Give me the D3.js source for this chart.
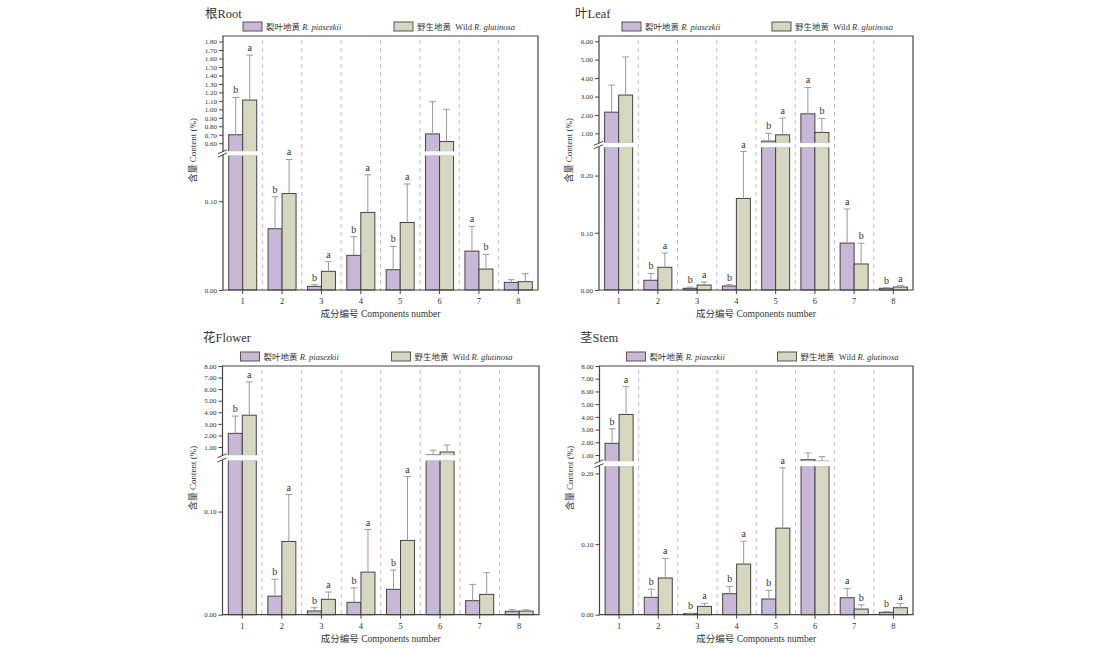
<!DOCTYPE html>
<html>
<head>
<meta charset="utf-8">
<script src="https://cdn.jsdelivr.net/npm/d3@7"></script>
<style>
    body { margin: 0; background: #fff; }
    svg text { font-family: "Liberation Serif", "Times New Roman", "Noto Sans CJK SC", serif; fill: #333; }
</style>
</head>
<body>
<div id="chart"></div>
<script>
/*
    Four panels (root, leaf, flower, stem) of grouped bars with a broken y axis.
    Purple = R. piasezkii, olive = wild R. glutinosa. Error bars are mean + SD.
*/

// ---- DATA ----
const components = ["1", "2", "3", "4", "5", "6", "7", "8"];

const rootPiasezkii   = [0.70, 0.069, 0.0041, 0.039, 0.0228, 0.71, 0.0438, 0.0086];
const rootPiasezkiiSD = [0.44, 0.036, 0.0019, 0.021, 0.0262, 0.38, 0.0278, 0.0030];
const rootGlutinosa   = [1.11, 0.1086, 0.021, 0.0873, 0.076, 0.62, 0.0236, 0.0094];
const rootGlutinosaSD = [0.53, 0.0384, 0.0108, 0.0423, 0.0434, 0.38, 0.0164, 0.0089];
const rootLettersP = ["b", "b", "b", "b", "b", "", "a", ""];
const rootLettersG = ["a", "a", "a", "a", "a", "", "b", ""];

const leafPiasezkii   = [2.15, 0.017, 0.003, 0.007, 0.58, 2.06, 0.082, 0.003];
const leafPiasezkiiSD = [1.47, 0.012, 0.002, 0.0023, 0.42, 1.43, 0.0596, 0.001];
const leafGlutinosa   = [3.08, 0.0397, 0.0087, 0.160, 0.92, 1.05, 0.0455, 0.0052];
const leafGlutinosaSD = [2.07, 0.025, 0.0053, 0.082, 0.91, 0.76, 0.0361, 0.0023];
const leafLettersP = ["", "b", "b", "b", "b", "a", "a", "b"];
const leafLettersG = ["", "a", "a", "a", "a", "b", "b", "a"];

const flowerPiasezkii   = [2.18, 0.018, 0.0036, 0.012, 0.0246, 0.31, 0.0136, 0.0033];
const flowerPiasezkiiSD = [1.49, 0.0163, 0.0032, 0.014, 0.0187, 0.41, 0.0158, 0.0015];
const flowerGlutinosa   = [3.75, 0.071, 0.0149, 0.0413, 0.072, 0.57, 0.0197, 0.0035];
const flowerGlutinosaSD = [2.87, 0.0455, 0.0071, 0.0413, 0.062, 0.60, 0.021, 0.0013];
const flowerLettersP = ["b", "b", "b", "b", "b", "", "", ""];
const flowerLettersG = ["a", "a", "a", "a", "a", "", "", ""];

const stemPiasezkii   = [1.92, 0.0246, 0.0014, 0.0297, 0.0222, 0.63, 0.024, 0.0034];
const stemPiasezkiiSD = [1.14, 0.0114, 0.0006, 0.0103, 0.0123, 0.53, 0.0133, 0.0014];
const stemGlutinosa   = [4.19, 0.052, 0.0118, 0.0717, 0.1226, 0.51, 0.008, 0.0099];
const stemGlutinosaSD = [2.19, 0.0277, 0.0042, 0.0323, 0.0854, 0.36, 0.006, 0.0057];
const stemLettersP = ["b", "b", "b", "b", "b", "", "a", "b"];
const stemLettersG = ["a", "a", "a", "a", "a", "", "b", "a"];

// tick labels
const rootUpperTicks   = [0.6, 0.7, 0.8, 0.9, 1.0, 1.1, 1.2, 1.3, 1.4, 1.5, 1.6, 1.7, 1.8];
const rootLowerTicks   = [0, 0.1];
const leafUpperTicks   = [1, 2, 3, 4, 5, 6];
const leafLowerTicks   = [0, 0.1, 0.2];
const flowerUpperTicks = [1, 2, 3, 4, 5, 6, 7, 8];
const flowerLowerTicks = [0, 0.1];
const stemUpperTicks   = [1, 2, 3, 4, 5, 6, 7, 8];
const stemLowerTicks   = [0, 0.1, 0.2];

const seriesNames = ["裂叶地黄", "野生地黄"];
const xTitle = "成分编号 Components number";
const yTitle = "含量 Content (%)";

// ---- LAYOUT ----
const width = 1099, height = 648;
const purple = "#c8b7d7", olive = "#d5d7c1";

const panels = [
    { title: "根Root", left: 223, right: 538, top: 36, bottom: 290, upBottom: 151.7, lowTop: 155,
      upDomain: [0.50, 1.866], lowMax: 0.152, upTicks: rootUpperTicks, lowTicks: rootLowerTicks,
      p: rootPiasezkii, pSD: rootPiasezkiiSD, g: rootGlutinosa, gSD: rootGlutinosaSD,
      lp: rootLettersP, lg: rootLettersG, titleX: 205, titleY: 18, legP: 20, legG: 171 },
    { title: "叶Leaf", left: 599, right: 913, top: 36, bottom: 290, upBottom: 143.3, lowTop: 146.7,
      upDomain: [0.459, 6.287], lowMax: 0.2505, upTicks: leafUpperTicks, lowTicks: leafLowerTicks,
      p: leafPiasezkii, pSD: leafPiasezkiiSD, g: leafGlutinosa, gSD: leafGlutinosaSD,
      lp: leafLettersP, lg: leafLettersG, titleX: 575, titleY: 18, legP: 23, legG: 173 },
    { title: "花Flower", left: 222.5, right: 539, top: 366, bottom: 614.7, upBottom: 455.7, lowTop: 460,
      upDomain: [0.25, 8.0], lowMax: 0.15, upTicks: flowerUpperTicks, lowTicks: flowerLowerTicks,
      p: flowerPiasezkii, pSD: flowerPiasezkiiSD, g: flowerGlutinosa, gSD: flowerGlutinosaSD,
      lp: flowerLettersP, lg: flowerLettersG, titleX: 203, titleY: 342, legP: 18, legG: 169 },
    { title: "茎Stem", left: 599.5, right: 913, top: 366, bottom: 614.7, upBottom: 461.7, lowTop: 465.7,
      upDomain: [0.475, 8.0], lowMax: 0.211, upTicks: stemUpperTicks, lowTicks: stemLowerTicks,
      p: stemPiasezkii, pSD: stemPiasezkiiSD, g: stemGlutinosa, gSD: stemGlutinosaSD,
      lp: stemLettersP, lg: stemLettersG, titleX: 580, titleY: 342, legP: 27, legG: 178 }
];

const svg = d3.select("#chart")
    .append("svg")
    .attr("width", width)
    .attr("height", height);

svg.append("rect").attr("width", width).attr("height", height).attr("fill", "#fff");

panels.forEach(drawPanel);

function drawPanel(P) {
    const g = svg.append("g");

    const x = d3.scaleBand().domain(components).range([P.left, P.right]);
    const bw = x.bandwidth();
    const barW = 14;
    const x1 = d3.scaleBand().domain(["p", "g"]).range([bw / 2 - barW, bw / 2 + barW]);

    const yLow = d3.scaleLinear().domain([0, P.lowMax]).range([P.bottom, P.lowTop]);
    const yUp = d3.scaleLinear().domain(P.upDomain).range([P.upBottom, P.top]);

    // dashed separators between components
    g.selectAll("line.sep")
        .data(components.slice(1))
        .enter()
        .append("line")
        .attr("x1", d => x(d)).attr("x2", d => x(d))
        .attr("y1", P.top + 4).attr("y2", P.bottom)
        .attr("stroke", "#d8b4c8")
        .attr("stroke-width", 1)
        .attr("stroke-dasharray", "4,4");

    const rows = components.map((c, i) => [
        { c, key: "p", v: P.p[i], sd: P.pSD[i], letter: P.lp[i], fill: purple },
        { c, key: "g", v: P.g[i], sd: P.gSD[i], letter: P.lg[i], fill: olive }
    ]).flat();

    rows.forEach(d => {
        const bx = x(d.c) + x1(d.key);
        const broken = d.v > P.lowMax;
        const yScale = broken ? yUp : yLow;
        // lower segment
        g.append("rect")
            .attr("x", bx).attr("width", barW)
            .attr("y", broken ? yLow(P.lowMax) : yLow(d.v))
            .attr("height", broken ? yLow(0) - yLow(P.lowMax) : yLow(0) - yLow(d.v))
            .attr("fill", d.fill).attr("stroke", "#444").attr("stroke-width", 1);
        if (broken) {
            g.append("rect")
                .attr("x", bx).attr("width", barW)
                .attr("y", yUp(d.v))
                .attr("height", Math.max(0, yUp(P.upDomain[0]) - yUp(d.v)))
                .attr("fill", d.fill).attr("stroke", "#444").attr("stroke-width", 1);
        }
        // error bar (upper half)
        const cx = bx + barW / 2;
        const yTop = yScale(d.v + d.sd);
        g.append("line")
            .attr("x1", cx).attr("x2", cx)
            .attr("y1", yScale(d.v)).attr("y2", yTop)
            .attr("stroke", "#9a9a9a").attr("stroke-width", 1);
        g.append("line")
            .attr("x1", cx - 3.3).attr("x2", cx + 3.3)
            .attr("y1", yTop).attr("y2", yTop)
            .attr("stroke", "#9a9a9a").attr("stroke-width", 1);
        if (d.letter) {
            g.append("text")
                .attr("x", cx).attr("y", yTop - 4)
                .attr("text-anchor", "middle")
                .attr("font-size", 10)
                .text(d.letter);
        }
    });

    // white break band over the bars that cross the break
    components.forEach((c, i) => {
        if (P.p[i] > P.lowMax || P.g[i] > P.lowMax) {
            g.append("rect")
                .attr("x", x(c) + x1("p") - 2)
                .attr("width", barW * 2 + 4)
                .attr("y", P.upBottom - 0.6)
                .attr("height", P.lowTop - P.upBottom + 1.2)
                .attr("fill", "#fff");
        }
    });

    // frame (left side split at the break)
    const frame = d3.path();
    frame.moveTo(P.left, P.upBottom); frame.lineTo(P.left, P.top);
    frame.lineTo(P.right, P.top); frame.lineTo(P.right, P.bottom);
    frame.lineTo(P.left, P.bottom); frame.lineTo(P.left, P.lowTop);
    g.append("path").attr("d", frame.toString())
        .attr("fill", "none").attr("stroke", "#444").attr("stroke-width", 1.2);

    // break marks
    [P.upBottom, P.lowTop].forEach(yy => {
        g.append("line")
            .attr("x1", P.left - 5).attr("y1", yy + 2)
            .attr("x2", P.left + 4).attr("y2", yy - 2)
            .attr("stroke", "#444").attr("stroke-width", 1);
    });

    // y axes
    const fmt = d3.format(".2f");
    const yAxisUp = g.append("g")
        .attr("transform", `translate(${P.left},0)`)
        .call(d3.axisLeft(yUp).tickValues(P.upTicks).tickFormat(fmt).tickSize(4));
    const yAxisLow = g.append("g")
        .attr("transform", `translate(${P.left},0)`)
        .call(d3.axisLeft(yLow).tickValues(P.lowTicks).tickFormat(fmt).tickSize(4));
    [yAxisUp, yAxisLow].forEach(a => {
        a.select(".domain").remove();
        a.selectAll(".tick line").attr("stroke", "#444");
        a.selectAll(".tick text").attr("font-size", 7).attr("font-family", null).attr("x", -6);
    });

    // x axis
    const xAxis = g.append("g")
        .attr("transform", `translate(0,${P.bottom})`)
        .call(d3.axisBottom(x).tickSize(4).tickSizeOuter(0));
    xAxis.select(".domain").remove();
    xAxis.selectAll(".tick line").attr("stroke", "#444");
    xAxis.selectAll(".tick text").attr("font-size", 8.5).attr("font-family", null).attr("y", 8);

    // axis titles
    g.append("text")
        .attr("x", (P.left + P.right) / 2)
        .attr("y", P.bottom + 27)
        .attr("text-anchor", "middle")
        .attr("font-size", 9.5)
        .text(xTitle);

    const yMid = P.top + (P.bottom - P.top) * 0.45;
    g.append("text")
        .attr("transform", `translate(${P.left - 27},${yMid}) rotate(-90)`)
        .attr("text-anchor", "middle")
        .attr("font-size", 9)
        .text(yTitle);

    // panel title
    g.append("text")
        .attr("x", P.titleX).attr("y", P.titleY)
        .attr("font-size", 12.5)
        .text(P.title);

    // legend
    const legY = P.top - 14;
    [
        { dx: P.legP, fill: purple, cn: seriesNames[0], pre: "", it: "R. piasezkii" },
        { dx: P.legG, fill: olive, cn: seriesNames[1], pre: "  Wild ", it: "R. glutinosa" }
    ].forEach(l => {
        g.append("rect")
            .attr("x", P.left + l.dx).attr("y", legY)
            .attr("width", 19).attr("height", 9)
            .attr("fill", l.fill).attr("stroke", "#555").attr("stroke-width", 1);
        const t = g.append("text")
            .attr("x", P.left + l.dx + 23).attr("y", legY + 8)
            .attr("font-size", 8.5)
            .attr("xml:space", "preserve");
        t.append("tspan").text(l.cn + l.pre);
        t.append("tspan").attr("font-style", "italic").text(l.pre ? l.it : " " + l.it);
    });
}
</script>
</body>
</html>
